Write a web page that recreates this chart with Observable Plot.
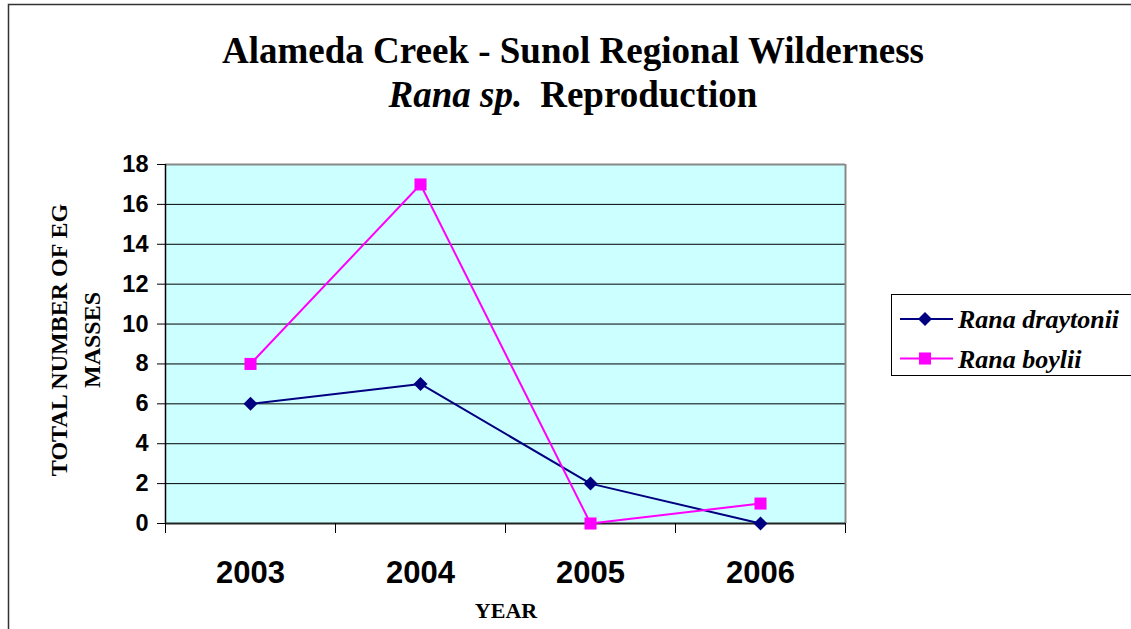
<!DOCTYPE html>
<html><head><meta charset="utf-8">
<script src="https://cdn.jsdelivr.net/npm/d3@7"></script>
<script src="https://cdn.jsdelivr.net/npm/@observablehq/plot@0.6"></script>
<style>
body{margin:0;background:#fff}
#chart{position:relative;width:1131px;height:629px;overflow:hidden}
</style>
</head><body><div id="chart"></div>
<script>
const years = ["2003", "2004", "2005", "2006"];
const draytonii = [6, 7, 2, 0];
const boylii = [8, 17, 0, 1];
const seriesNames = ["Rana draytonii", "Rana boylii"];
const yTicks = [0, 2, 4, 6, 8, 10, 12, 14, 16, 18];
const gridValues = [2, 4, 6, 8, 10, 12, 14, 16];
const colors = ["#000080", "#ff00ff"];
const titleLine1 = "Alameda Creek - Sunol Regional Wilderness";
const titleItalic = "Rana sp.";
const titleRest = "Reproduction";
const yTitle = ["TOTAL NUMBER OF EG", "MASSES"];
const xTitle = "YEAR";

const rows = [];
years.forEach((yr, i) => {
  rows.push({pos: i + 0.5, year: yr, series: seriesNames[0], value: draytonii[i]});
  rows.push({pos: i + 0.5, year: yr, series: seriesNames[1], value: boylii[i]});
});

const sans = "'Liberation Sans', Arial, sans-serif";
const serif = "'Liberation Serif', 'Times New Roman', serif";

const plot = Plot.plot({
  width: 1131, height: 629,
  marginLeft: 165, marginRight: 286, marginTop: 164, marginBottom: 106,
  style: {fontFamily: sans, color: "#000", background: "transparent"},
  x: {type: "linear", domain: [0, years.length], axis: null},
  y: {domain: [0, 18], axis: null},
  color: {domain: seriesNames, range: colors},
  marks: [
    Plot.frame({fill: "#ccffff", stroke: null}),
    Plot.ruleY(gridValues, {stroke: "#000", strokeWidth: 1}),
    Plot.ruleY([18], {stroke: "#888", strokeWidth: 2}),
    Plot.ruleX([years.length], {stroke: "#888", strokeWidth: 2}),
    Plot.ruleX([0], {stroke: "#000", strokeWidth: 1.5}),
    Plot.ruleY([0], {stroke: "#222", strokeWidth: 2}),
    Plot.axisY(yTicks, {tickSize: 8, tickPadding: 9, fontSize: 23.5, fontWeight: "bold", label: null}),
    Plot.axisX(d3.range(years.length + 1), {tickSize: 10, tickFormat: () => "", label: null}),
    Plot.axisX(years.map((_, i) => i + 0.5), {tickSize: 0, tickPadding: 37, fontSize: 31, fontWeight: "bold",
      tickFormat: d => years[Math.floor(d)], label: null}),
    Plot.line(rows, {x: "pos", y: "value", z: "series", stroke: "series", strokeWidth: 2}),
    Plot.dot(rows.filter(d => d.series === seriesNames[0]), {x: "pos", y: "value", symbol: "diamond2", fill: colors[0], r: 6.3}),
    Plot.dot(rows.filter(d => d.series === seriesNames[1]), {x: "pos", y: "value", symbol: "square", fill: colors[1], r: 6.8})
  ]
});

document.getElementById("chart").appendChild(plot);
const svg = d3.select(plot);

// outer chart border (left & top visible)
svg.append("path").attr("d", "M8.5,629 V4.5 H1131").attr("fill", "none").attr("stroke", "#333").attr("stroke-width", 1.5);

// title
svg.append("text").attr("x", 573).attr("y", 63).attr("text-anchor", "middle")
  .style("font-family", serif).style("font-weight", "bold").style("font-size", "37px").text(titleLine1);
const t2 = svg.append("text").attr("x", 573).attr("y", 107).attr("text-anchor", "middle")
  .style("font-family", serif).style("font-weight", "bold").style("font-size", "37px");
t2.append("tspan").style("font-style", "italic").text(titleItalic);
t2.append("tspan").attr("dx", 18).text(titleRest);

// y axis title
yTitle.forEach((s, i) => {
  svg.append("text").attr("transform", `translate(${67 + i * 33},340) rotate(-90)`).attr("text-anchor", "middle")
    .style("font-family", serif).style("font-weight", "bold").style("font-size", "24px").text(s);
});

// x axis title
svg.append("text").attr("x", 506).attr("y", 618).attr("text-anchor", "middle")
  .style("font-family", serif).style("font-weight", "bold").style("font-size", "22px").text(xTitle);

// legend
const lg = svg.append("g");
lg.append("rect").attr("x", 891.5).attr("y", 294.5).attr("width", 260).attr("height", 81)
  .attr("fill", "#fff").attr("stroke", "#000").attr("stroke-width", 1);
const syms = [d3.symbolDiamond2, d3.symbolSquare];
const symSizes = [Math.PI * 6.3 * 6.3, Math.PI * 6.8 * 6.8];
seriesNames.forEach((name, i) => {
  const cy = 319 + i * 39.5;
  lg.append("line").attr("x1", 900).attr("x2", 953).attr("y1", cy).attr("y2", cy)
    .attr("stroke", colors[i]).attr("stroke-width", 2);
  lg.append("path").attr("d", d3.symbol(syms[i], symSizes[i])()).attr("transform", `translate(925,${cy})`).attr("fill", colors[i]);
  lg.append("text").attr("x", 958).attr("y", cy + 9).attr("text-anchor", "start")
    .style("font-family", serif).style("font-weight", "bold").style("font-style", "italic").style("font-size", "26px").text(name);
});
</script>
</body></html>
